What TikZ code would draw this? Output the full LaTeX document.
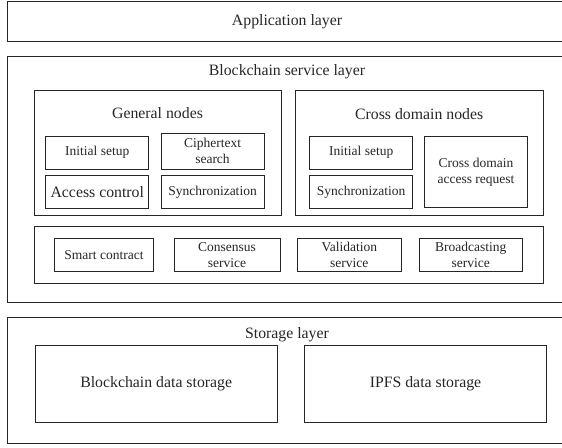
\documentclass[tikz,border=0pt]{standalone}
\usepackage{fontspec}
\setmainfont{Liberation Serif}
\newcommand{\bigtxt}{\fontsize{15.8}{18}\selectfont}
\newcommand{\smalltxt}{\fontsize{13.5}{16}\selectfont}
\begin{document}
\begin{tikzpicture}[x=1pt,y=-1pt,line width=0.9pt,color=black!85,
    unit/.style={draw,minimum width=103pt,minimum height=33pt,inner sep=1pt,align=center,font=\smalltxt},
    store/.style={draw,minimum width=242pt,minimum height=76.6pt,font=\bigtxt},
    title/.style={font=\bigtxt}]
        % frame
            \useasboundingbox (0,0) rectangle (562,447);
            \clip (0,0) rectangle (562,447);
        % layers
            \draw (7.5,1.7) rectangle (567,41);
            \draw (7.5,56.7) rectangle (567,302);
            \draw (7.5,317.3) rectangle (567,443.3);
            \node[title] (app) at (287,22) {Application layer};
            \node[title] (chain) at (287,72) {Blockchain service layer};
            \node[title] (storage) at (287,335) {Storage layer};
        % node groups
            \draw (34,90.7) rectangle (281,215);
            \draw (295,90.7) rectangle (543.3,215);
            \node[title] (general) at (157.5,113) {General nodes};
            \node[title] (cross) at (419.2,114) {Cross domain nodes};
            \node[unit] (ginit) at (97.3,152.7) {Initial setup};
            \node[unit,minimum height=36pt] (search) at (212.5,151.3) {Ciphertext\\search};
            \node[unit,font=\bigtxt] (access) at (97.3,192) {Access control};
            \node[unit] (gsync) at (212.5,192) {Synchronization};
            \node[unit] (cinit) at (361.2,152.5) {Initial setup};
            \node[unit] (csync) at (361.2,192) {Synchronization};
            \node[unit,minimum height=70.6pt] (request) at (476,172) {Cross domain\\access request};
        % services
            \draw (34,226.7) rectangle (543.3,283.3);
            \foreach \n/\x/\w/\t in {contract/104/98.6/Smart contract,consensus/227/106/Consensus\\service,
                validation/349.3/103.3/Validation\\service,broadcast/470.7/103.3/Broadcasting\\service}{
                \node[unit,minimum width=\w pt,minimum height=32.3pt] (\n) at (\x,254.8) {\t};
            }
        % storage
            \node[store] (chaindata) at (156.2,384) {Blockchain data storage};
            \node[store] (ipfs) at (425.5,384) {IPFS data storage};
\end{tikzpicture}
\end{document}
